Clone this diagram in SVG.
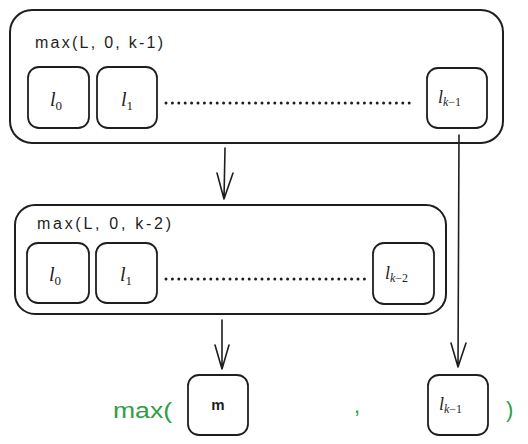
<svg xmlns="http://www.w3.org/2000/svg" width="528" height="444" viewBox="0 0 528 444">
<style>
.frame{fill:none;stroke:#1e1e1e;stroke-width:2}
.box{fill:none;stroke:#1e1e1e;stroke-width:1.8}
.dots{fill:none;stroke:#1e1e1e;stroke-width:3;stroke-linecap:round;stroke-dasharray:0 6.4}
.conn{fill:none;stroke:#1e1e1e;stroke-width:1.6;stroke-linecap:round;stroke-linejoin:round}
.title{font-family:"Liberation Sans",sans-serif;font-size:16px;fill:#1e1e1e}
.math{font-family:"Liberation Serif",serif;fill:#1e1e1e}
.l{font-style:italic;font-size:20px}
.sub{font-size:13px}
.lk{font-style:italic;font-size:18px}
.sk{font-size:12px;font-style:italic}
.sn{font-size:12px}
.green{font-family:"Liberation Sans",sans-serif;font-size:22px;fill:#2f9e44}
</style>
<rect width="528" height="444" fill="#fff"/>
<g id="outer1">
<rect class="frame" x="10" y="10" width="493" height="133" rx="22"/>
<text class="title" x="35" y="48" textLength="128" lengthAdjust="spacing">max(L, 0, k-1)</text>
</g>
<g id="n1-l0">
<rect class="box" x="28" y="67" width="61" height="61" rx="11"/>
<text class="math" x="50" y="106"><tspan class="l">l</tspan><tspan class="sub" dy="4">0</tspan></text>
</g>
<g id="n1-l1">
<rect class="box" x="97" y="67" width="60" height="61" rx="11"/>
<text class="math" x="121" y="106"><tspan class="l">l</tspan><tspan class="sub" dy="4">1</tspan></text>
</g>
<g id="n1-dots"><line class="dots" x1="166" y1="103" x2="413" y2="103"/></g>
<g id="n1-lk1">
<rect class="box" x="427" y="68" width="60" height="60" rx="11"/>
<text class="math" x="438" y="103"><tspan class="lk">l</tspan><tspan class="sk" dy="3">k</tspan><tspan class="sn">−1</tspan></text>
</g>
<g id="outer2">
<rect class="frame" x="15" y="205" width="431" height="109" rx="20"/>
<text class="title" x="37" y="229" textLength="134" lengthAdjust="spacing">max(L, 0, k-2)</text>
</g>
<g id="n2-l0">
<rect class="box" x="27" y="243" width="62" height="60" rx="11"/>
<text class="math" x="49" y="281"><tspan class="l">l</tspan><tspan class="sub" dy="4">0</tspan></text>
</g>
<g id="n2-l1">
<rect class="box" x="96" y="243" width="61" height="60" rx="11"/>
<text class="math" x="120" y="281"><tspan class="l">l</tspan><tspan class="sub" dy="4">1</tspan></text>
</g>
<g id="n2-dots"><line class="dots" x1="166" y1="279" x2="366" y2="279"/></g>
<g id="n2-lk2">
<rect class="box" x="373" y="243" width="61" height="61" rx="11"/>
<text class="math" x="385" y="279"><tspan class="lk">l</tspan><tspan class="sk" dy="3">k</tspan><tspan class="sn">−2</tspan></text>
</g>
<g id="result">
<text class="green" x="113" y="418" textLength="59" lengthAdjust="spacingAndGlyphs">max(</text>
<rect class="box" x="188" y="375" width="60" height="60" rx="11"/>
<text x="218" y="410" text-anchor="middle" style="font-family:'Liberation Sans',sans-serif;font-size:15px;font-weight:bold;fill:#1e1e1e">m</text>
<text class="green" x="354" y="413">,</text>
<rect class="box" x="428" y="375" width="60" height="60" rx="11"/>
<text class="math" x="439" y="410"><tspan class="lk">l</tspan><tspan class="sk" dy="3">k</tspan><tspan class="sn">−1</tspan></text>
<text class="green" x="506" y="417">)</text>
</g>
<g id="connectors">
<path class="conn" d="M225 148 L224 199 M217 173 L224 199 L233 173"/>
<path class="conn" d="M222 320 L222 369 M215 345 L222 369 L229 345"/>
<path class="conn" d="M459 135 L458 367 M451 343 L458 367 L466 343"/>
</g>
</svg>
